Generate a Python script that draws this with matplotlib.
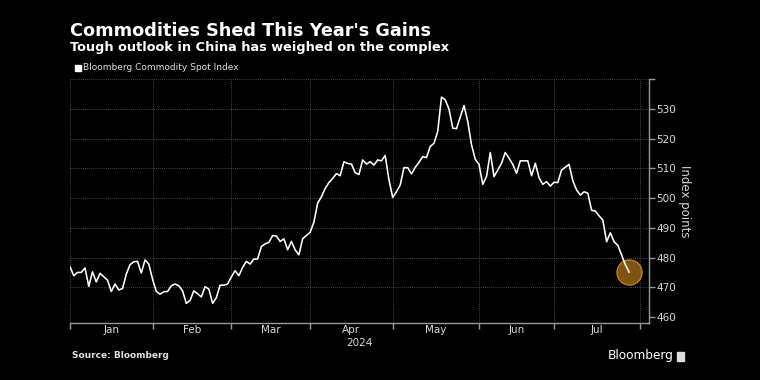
import numpy as np
import pandas as pd
import matplotlib
matplotlib.use("Agg")
import matplotlib.pyplot as plt
from matplotlib.patches import Rectangle

# Bloomberg Commodity Spot Index, trading days from 2 Jan 2024
values = [
    476.9, 473.9, 475.0, 475.0, 476.5, 470.3, 475.2, 471.8, 474.7, 472.4,
    468.6, 471.1, 469.1, 469.6, 474.4, 477.6, 478.6, 478.7, 474.8, 479.2,
    477.8, 472.7, 468.6, 467.7, 468.5, 468.6, 470.5, 471.1, 470.5, 468.8,
    464.6, 465.6, 468.8, 466.8, 470.2, 469.4, 464.6, 466.5, 470.7, 470.7,
    471.1, 473.5, 475.6, 473.9, 476.7, 478.7, 477.8, 479.5, 479.5, 483.7,
    484.6, 485.1, 487.4, 487.2, 485.4, 486.3, 482.6, 485.4, 482.6, 480.9,
    486.3, 488.5, 491.9, 498.3, 500.4, 503.2, 505.2, 506.6, 508.2, 507.5,
    512.2, 511.6, 511.4, 508.5, 507.9, 512.8, 511.4, 512.2, 511.1,
    512.8, 512.5, 514.3, 506.1, 500.2, 502.1, 504.4, 510.2, 510.2, 508.1,
    510.3, 512.0, 513.9, 513.6, 517.3, 518.4, 522.4, 533.9, 533.0, 529.9,
    523.5, 523.3, 531.1, 525.7, 517.9, 513.0, 511.3, 504.6, 507.2, 515.3,
    507.2, 509.4, 511.7, 515.3, 513.4, 511.3, 508.3, 512.5, 512.5, 507.5,
    511.7, 506.8, 504.6, 505.5, 504.0, 505.3, 505.2, 509.4, 511.3, 505.8,
    502.7, 501.0, 502.1, 501.6, 495.9, 495.6, 494.0, 492.6, 485.3, 488.3,
    485.3, 484.1, 480.8, 477.6, 475.1,
]
holidays = ["2024-01-15", "2024-02-19", "2024-03-29", "2024-05-27",
            "2024-06-19", "2024-07-04"]
month_starts = ["2024-01-01", "2024-02-01", "2024-03-01", "2024-04-01", "2024-05-01",
                "2024-06-01", "2024-07-01", "2024-08-01"]
month_labels = ["Jan", "Feb", "Mar", "Apr", "May", "Jun", "Jul"]
y_ticks = [460, 470, 480, 490, 500, 510, 520, 530]

dates = pd.bdate_range("2024-01-02", periods=len(values), freq="C", holidays=holidays)
origin = np.datetime64("2024-01-01")
# weekday axis (weekends collapsed, holidays keep their slot)
x = np.busday_count(origin, dates.values.astype("datetime64[D]"))
bounds = np.busday_count(origin, np.array(month_starts, dtype="datetime64[D]"))

x_left, x_right = x[0], 155.3
bounds = np.maximum(bounds, x_left)

plt.rcParams["font.family"] = ["DejaVu Sans"]
fig = plt.figure(figsize=(7.6, 3.8), dpi=100, facecolor="black")
ax = fig.add_axes([70 / 760, 1 - 323 / 380, 579 / 760, 244 / 380])
ax.set_facecolor("black")

ax.plot(x, values, color="white", lw=1.15, zorder=3, solid_joinstyle="round")
ax.scatter([x[-1]], [values[-1]], s=330, facecolor=(0.93, 0.6, 0.13, 0.55),
           edgecolor="#d08a22", lw=0.8, zorder=2)

ax.set_xlim(x_left, x_right)
ax.set_ylim(458, 540)

grid_kw = dict(color="#5e5e5e", lw=0.6, ls=(0, (1, 1.5)), zorder=1)
for b in bounds[1:]:
    ax.axvline(b, **grid_kw)
for yv in y_ticks[1:] + [540]:
    ax.axhline(yv, **grid_kw)
ax.axvline(x_left, **grid_kw)

for s in ["left", "top"]:
    ax.spines[s].set_visible(False)
for s in ["right", "bottom"]:
    ax.spines[s].set_color("#9a9a9a")
    ax.spines[s].set_linewidth(1.0)

ax.yaxis.tick_right()
ax.set_yticks(y_ticks + [540])
ax.set_yticklabels([str(v) for v in y_ticks] + [""])
ax.tick_params(axis="y", colors="#9a9a9a", labelcolor="#d8d8d8", labelsize=7.5,
               length=4, width=1.0, pad=1)
ax.set_xticks(bounds)
ax.set_xticklabels([""] * len(bounds))
mids = (bounds[:-1] + bounds[1:]) / 2
ax.set_xticks(mids, minor=True)
ax.set_xticklabels(month_labels, minor=True)
ax.tick_params(axis="x", which="major", colors="#9a9a9a", length=4, width=1.0)
ax.tick_params(axis="x", which="minor", length=0, labelcolor="#d8d8d8",
               labelsize=7.5, pad=1.5)

ax.yaxis.set_label_position("right")
ax.set_ylabel("Index points", rotation=270, color="#d8d8d8", fontsize=8.5,
              labelpad=2, va="bottom")

fig.text(359.5 / 760, 1 - 343 / 380, "2024", color="#d8d8d8", fontsize=7.5,
         ha="center", va="center")

fig.text(70 / 760, 1 - 36 / 380, "Commodities Shed This Year's Gains", color="white",
         fontsize=12.7, fontweight="bold", va="baseline")
fig.text(70 / 760, 1 - 51 / 380, "Tough outlook in China has weighed on the complex",
         color="white", fontsize=9.3, fontweight="bold", va="baseline")

fig.patches.append(Rectangle((75 / 760, 1 - 71 / 380), 6 / 760, 6 / 380,
                             transform=fig.transFigure, color="white"))
fig.text(83 / 760, 1 - 68 / 380, "Bloomberg Commodity Spot Index", color="#e0e0e0",
         fontsize=6.5, va="center")

fig.text(72 / 760, 1 - 356 / 380, "Source: Bloomberg", color="#e0e0e0",
         fontsize=6.5, fontweight="bold", va="center")
fig.text(674 / 760, 1 - 356 / 380, "Bloomberg", color="white", fontsize=8.7,
         ha="right", va="center")
fig.patches.append(Rectangle((677 / 760, 1 - 361 / 380), 7 / 760, 9 / 380,
                             transform=fig.transFigure, color="#dddddd"))

fig.savefig("out.png", dpi=100, facecolor="black")
